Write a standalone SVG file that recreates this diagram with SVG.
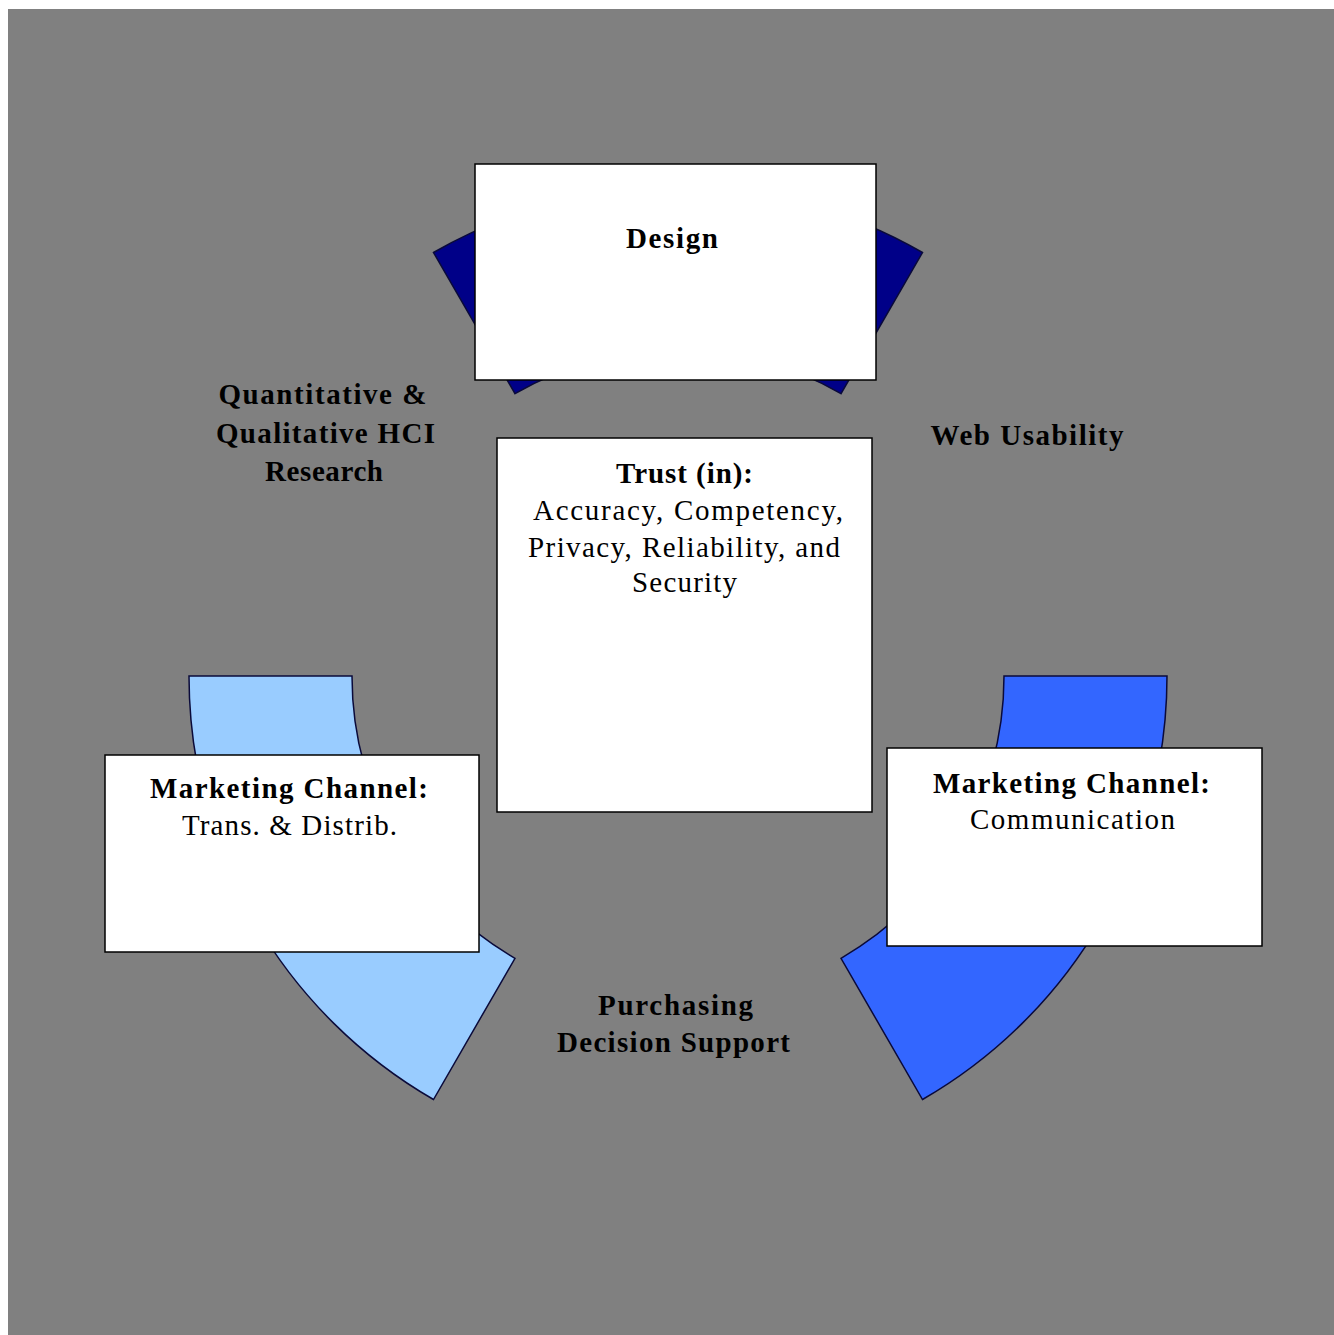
<svg xmlns="http://www.w3.org/2000/svg" width="1334" height="1335" viewBox="0 0 1334 1335">
<style>
.bg{fill:#808080}
.box{fill:#ffffff;stroke:#000000;stroke-width:1.5}
.arc{stroke:#0a0a3a;stroke-width:1.5;stroke-linejoin:miter}
.t{font-family:"Liberation Serif","Times New Roman",serif;font-size:29px;fill:#000000;text-anchor:middle}
.b{font-weight:bold}
</style>
<rect x="0" y="0" width="1334" height="1335" fill="#ffffff"/>
<rect class="bg" x="8" y="9" width="1326" height="1326"/>
<g id="connectors">
<path class="arc" fill="#000088" d="M 433.5,252.5 A 489 489 0 0 1 922.5,252.5 L 841,393.7 A 326 326 0 0 0 515,393.7 Z"/>
<path class="arc" fill="#99CCFF" d="M 189,676 A 489 489 0 0 0 433.5,1099.5 L 515,958.3 A 326 326 0 0 1 352,676 Z"/>
<path class="arc" fill="#3366FF" d="M 1167,676 A 489 489 0 0 1 922.5,1099.5 L 841,958.3 A 326 326 0 0 0 1004,676 Z"/>
</g>
<g id="design">
<rect class="box" x="475" y="164" width="401" height="216"/>
<text class="t b" x="672" y="248" textLength="92" lengthAdjust="spacing">Design</text>
</g>
<g id="trust">
<rect class="box" x="497" y="438" width="375" height="374"/>
<text class="t b" x="684.5" y="483" textLength="137" lengthAdjust="spacing">Trust (in):</text>
<text class="t" x="688" y="520" textLength="310" lengthAdjust="spacing">Accuracy, Competency,</text>
<text class="t" x="684" y="557" textLength="312" lengthAdjust="spacing">Privacy, Reliability, and</text>
<text class="t" x="684.5" y="592" textLength="105" lengthAdjust="spacing">Security</text>
</g>
<g id="mc-trans">
<rect class="box" x="105" y="755" width="374" height="197"/>
<text class="t b" x="289" y="798" textLength="278" lengthAdjust="spacing">Marketing Channel:</text>
<text class="t" x="289.5" y="835" textLength="215" lengthAdjust="spacing">Trans. &amp; Distrib.</text>
</g>
<g id="mc-comm">
<rect class="box" x="887" y="748" width="375" height="198"/>
<text class="t b" x="1071.5" y="793" textLength="277" lengthAdjust="spacing">Marketing Channel:</text>
<text class="t" x="1072.5" y="829" textLength="205" lengthAdjust="spacing">Communication</text>
</g>
<g id="label-research">
<text class="t b" x="322.5" y="404" textLength="208" lengthAdjust="spacing">Quantitative &amp;</text>
<text class="t b" x="325.5" y="443" textLength="219" lengthAdjust="spacing">Qualitative HCI</text>
<text class="t b" x="324" y="481" textLength="118" lengthAdjust="spacing">Research</text>
</g>
<g id="label-usability">
<text class="t b" x="1027" y="445" textLength="193" lengthAdjust="spacing">Web Usability</text>
</g>
<g id="label-purchasing">
<text class="t b" x="675.5" y="1015" textLength="155" lengthAdjust="spacing">Purchasing</text>
<text class="t b" x="673.5" y="1052" textLength="233" lengthAdjust="spacing">Decision Support</text>
</g>
</svg>
